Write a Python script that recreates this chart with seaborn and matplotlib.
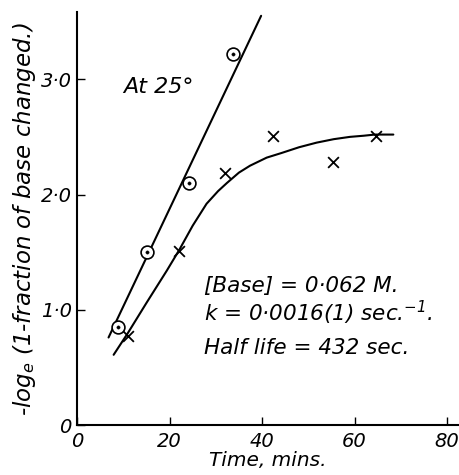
import numpy as np
import pandas as pd
import matplotlib
matplotlib.use("Agg")
import matplotlib.pyplot as plt
import seaborn as sns

circle_t = [8.9, 15.1, 24.2, 33.7]
circle_y = [0.85, 1.50, 2.10, 3.22]
cross_t = [11.0, 22.1, 32.0, 42.4, 55.4, 64.6]
cross_y = [0.77, 1.51, 2.19, 2.51, 2.28, 2.51]

# straight line through the circles
line_t = [6.8, 39.8]
line_y = [0.76, 3.55]

# smooth curve through the crosses
curve_t = [7.9, 11.0, 15.0, 19.4, 22.1, 25.0, 28.0, 30.5, 32.4, 35.0, 37.4,
           41.0, 44.2, 48.0, 51.8, 55.5, 59.0, 62.0, 64.4, 68.4]
curve_y = [0.61, 0.80, 1.06, 1.34, 1.52, 1.73, 1.92, 2.03, 2.10, 2.19, 2.25,
           2.32, 2.36, 2.41, 2.45, 2.48, 2.50, 2.51, 2.52, 2.52]

xticks = [0, 20, 40, 60, 80]
xtick_labels = ["0", "20", "40", "60", "80"]
yticks = [0, 1, 2, 3]
ytick_labels = ["0", "1·0", "2·0", "3·0"]

sns.set_style("ticks")
plt.rcParams['font.family'] = ['DejaVu Sans']
plt.rcParams['font.style'] = 'italic'
plt.rcParams['mathtext.default'] = 'it'
for key in ['text.color', 'axes.labelcolor', 'xtick.color', 'ytick.color', 'axes.edgecolor']:
    plt.rcParams[key] = 'black'

fig = plt.figure(figsize=(4.59, 4.75), dpi=100)
ax = fig.add_axes([0.168, 0.105, 0.832, 0.869])

lw = 1.5
sns.lineplot(x=line_t, y=line_y, color="black", lw=lw, sort=False, ax=ax)
sns.lineplot(x=curve_t, y=curve_y, color="black", lw=lw, sort=False, ax=ax)

pts_c = pd.DataFrame({"t": circle_t, "y": circle_y})
sns.scatterplot(data=pts_c, x="t", y="y", marker="o", s=85, facecolor="white",
                edgecolor="black", linewidth=1.2, ax=ax, zorder=3)
sns.scatterplot(data=pts_c, x="t", y="y", marker="o", s=6, color="black",
                edgecolor="black", ax=ax, zorder=4)
pts_x = pd.DataFrame({"t": cross_t, "y": cross_y})
sns.scatterplot(data=pts_x, x="t", y="y", marker="x", s=60, color="black",
                linewidth=1.3, ax=ax, zorder=3)

ax.set_xlim(0, 82.6)
ax.set_ylim(0, 3.58)
ax.set_xticks(xticks)
ax.set_xticklabels(xtick_labels)
ax.set_yticks(yticks)
ax.set_yticklabels(ytick_labels)
ax.tick_params(direction="in", length=6, width=1, labelsize=14)
ax.tick_params(axis="x", pad=5)
ax.tick_params(axis="y", pad=4)
sns.despine(ax=ax)
for s in ["left", "bottom"]:
    ax.spines[s].set_linewidth(1.5)

ax.set_xlabel("Time, mins.", fontsize=14.5, labelpad=0)
ax.set_ylabel("-log$_e$ (1-fraction of base changed.)", fontsize=16.5, labelpad=2)

ax.text(17.5, 2.93, "At 25°", fontsize=16, ha="center", va="center")
ax.text(27.5, 1.21, "[Base] = 0·062 M.", fontsize=15.5, ha="left", va="center")
ax.text(27.5, 0.97, "k = 0·0016(1) sec.$^{-1}$.", fontsize=15.5, ha="left", va="center")
ax.text(27.5, 0.67, "Half life = 432 sec.", fontsize=15.5, ha="left", va="center")

fig.savefig("out.png", dpi=100)
